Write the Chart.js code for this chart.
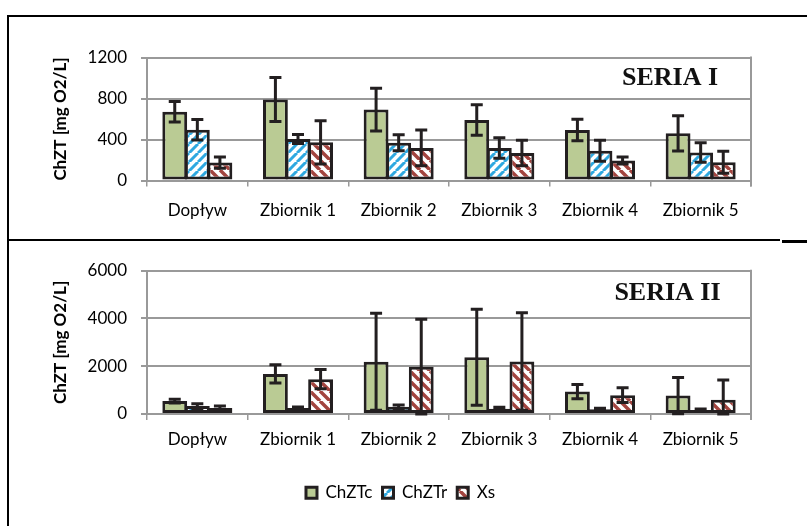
<!DOCTYPE html>
<html>
<head>
<meta charset="utf-8">
<script src="https://cdn.jsdelivr.net/npm/chart.js@4.4.1/dist/chart.umd.min.js"></script>
<style>
  html, body { margin: 0; padding: 0; background: #fff; }
  #wrap { position: relative; width: 807px; height: 526px; overflow: hidden; }
  canvas { position: absolute; left: 0; }
  #c1 { top: 0; }
  #c2 { top: 241px; }
  .ln { position: absolute; background: #000; }
</style>
</head>
<body>
<div id="wrap">
  <canvas id="c1" width="807" height="240"></canvas>
  <canvas id="c2" width="807" height="285"></canvas>
  <div class="ln" style="left:7px;top:15px;width:800px;height:2px"></div>
  <div class="ln" style="left:7px;top:15px;width:2px;height:511px"></div>
  <div class="ln" style="left:7px;top:239px;width:773px;height:2px"></div>
  <div class="ln" style="left:782px;top:240px;width:25px;height:3px"></div>
</div>
<script>
// Sampling points and series
const categories = ['Dopływ', 'Zbiornik 1', 'Zbiornik 2', 'Zbiornik 3', 'Zbiornik 4', 'Zbiornik 5'];
const seriesNames = ['ChZTc', 'ChZTr', 'Xs'];

// SERIA I  (mg O2/L, mean and standard deviation)
const chztcI     = [670, 790, 692, 590, 492, 460];
const chztcErrI  = [100, 215, 208, 148, 105, 172];
const chztrI     = [495, 405, 368, 318, 290, 273];
const chztrErrI  = [100, 45, 78, 100, 103, 95];
const xsI        = [175, 372, 318, 268, 195, 178];
const xsErrI     = [55, 210, 175, 124, 35, 108];
const ticksI     = [0, 400, 800, 1200];

// SERIA II
const chztcII    = [540, 1680, 2190, 2380, 940, 770];
const chztcErrII = [80, 380, 2030, 2010, 300, 760];
const chztrII    = [330, 250, 300, 220, 200, 170];
const chztrErrII = [100, 40, 80, 60, 40, 40];
const xsII       = [250, 1460, 1980, 2200, 790, 600];
const xsErrII    = [90, 400, 1990, 2040, 310, 820];
const ticksII    = [0, 2000, 4000, 6000];

const yTitle = 'ChZT [mg O2/L]';
const FONT = 'Lato';
const EDGE = '#231f20';
const GRID = '#999999';

Chart.defaults.font.family = FONT;
Chart.defaults.color = '#000';

// Diagonal hatch fill ('/' when dir > 0, '\' otherwise)
function hatch(ctx, color, dir, size, width) {
  const c = document.createElement('canvas');
  c.width = c.height = size;
  const g = c.getContext('2d');
  g.fillStyle = '#fff';
  g.fillRect(0, 0, size, size);
  g.strokeStyle = color;
  g.lineWidth = width;
  g.beginPath();
  for (let k = -1; k <= 1; k++) {
    if (dir > 0) { g.moveTo(k * size, size); g.lineTo(k * size + size, 0); }
    else { g.moveTo(k * size, 0); g.lineTo(k * size + size, size); }
  }
  g.stroke();
  return ctx.createPattern(c, 'repeat');
}

// Error whiskers with caps, drawn from each dataset's `errors` list
const errorBars = {
  id: 'errorBars',
  afterDatasetsDraw(chart) {
    const { ctx } = chart;
    const y = chart.scales.y;
    ctx.save();
    ctx.strokeStyle = EDGE;
    ctx.lineWidth = 3;
    ctx.lineCap = 'butt';
    chart.data.datasets.forEach((ds, i) => {
      const meta = chart.getDatasetMeta(i);
      meta.data.forEach((bar, j) => {
        const v = ds.data[j], e = ds.errors[j];
        const yt = y.getPixelForValue(v + e);
        const yb = y.getPixelForValue(Math.max(0, v - e));
        const x = bar.x, hw = 6;
        ctx.beginPath();
        ctx.moveTo(x, yt); ctx.lineTo(x, yb);
        ctx.moveTo(x - hw, yt); ctx.lineTo(x + hw, yt);
        ctx.moveTo(x - hw, yb); ctx.lineTo(x + hw, yb);
        ctx.stroke();
      });
    });
    ctx.restore();
  }
};

// Right edge of the plot frame
const plotFrame = {
  id: 'plotFrame',
  beforeDatasetsDraw(chart) {
    const { ctx, chartArea: a } = chart;
    ctx.save();
    ctx.strokeStyle = GRID;
    ctx.lineWidth = 2;
    ctx.beginPath();
    ctx.moveTo(a.right, a.top - 1);
    ctx.lineTo(a.right, a.bottom + 6);
    ctx.stroke();
    ctx.restore();
  }
};

// Series caption inside the plot
const seriesTag = {
  id: 'seriesTag',
  afterDraw(chart, args, o) {
    if (!o || !o.text) return;
    const { ctx, chartArea: a } = chart;
    ctx.save();
    ctx.font = 'bold 26px "Liberation Serif", "Times New Roman", serif';
    ctx.fillStyle = '#111';
    ctx.textAlign = 'center';
    ctx.textBaseline = 'middle';
    ctx.fillText(o.text, a.right + o.dx, a.top + o.dy);
    ctx.restore();
  }
};

function build(canvasId, values, errors, ticks, tag, geom) {
  const ctx = document.getElementById(canvasId).getContext('2d');
  const fills = ['#bacb94', hatch(ctx, '#2ea8e0', 1, 9, 3), hatch(ctx, '#a3443f', -1, 10, 3.5)];
  const datasets = seriesNames.map((name, i) => ({
    label: name,
    data: values[i],
    errors: errors[i],
    backgroundColor: fills[i],
    borderColor: EDGE,
    borderWidth: 3,
    borderSkipped: false,
    barPercentage: 1.1,
    categoryPercentage: 0.673
  }));
  return new Chart(ctx, {
    type: 'bar',
    data: { labels: categories, datasets },
    plugins: [plotFrame, errorBars, seriesTag],
    options: {
      responsive: false,
      animation: false,
      events: [],
      layout: { padding: { left: 50, right: 56, top: geom.top, bottom: geom.bottom } },
      plugins: {
        tooltip: { enabled: false },
        seriesTag: { text: tag, dx: geom.tagDx, dy: geom.tagDy },
        legend: {
          display: geom.legend,
          position: 'bottom',
          labels: { font: { family: FONT, size: 17 }, color: '#000', boxWidth: 11, boxHeight: 11, padding: 10 }
        }
      },
      scales: {
        x: {
          grid: { display: true, drawOnChartArea: false, drawTicks: true, tickLength: 6, color: GRID, lineWidth: 1.5 },
          border: { display: true, color: GRID, width: 2 },
          ticks: { font: { family: FONT, size: 17 }, color: '#000', padding: geom.xPad, maxRotation: 0, autoSkip: false },
          afterFit(s) { s.height = geom.xHeight; }
        },
        y: {
          min: ticks[0],
          max: ticks[ticks.length - 1],
          ticks: {
            stepSize: ticks[1] - ticks[0],
            font: { family: FONT, size: 17 },
            color: '#000',
            padding: 14,
            callback: (v) => String(v)
          },
          grid: { color: GRID, lineWidth: 2, tickLength: 6 },
          border: { display: true, color: GRID, width: 2 },
          title: { display: true, text: yTitle, font: { family: FONT, size: 17, weight: 'bold' }, color: '#000', padding: { top: 0, bottom: 0 } },
          afterFit(s) { s.width = 97; }
        }
      }
    }
  });
}

build('c1', [chztcI, chztrI, xsI], [chztcErrI, chztrErrI, xsErrI], ticksI, 'SERIA I',
  { top: 57.5, bottom: 0, xHeight: 59.5, xPad: 14, legend: false, tagDx: -81, tagDy: 20.5 });
build('c2', [chztcII, chztrII, xsII], [chztcErrII, chztrErrII, xsErrII], ticksII, 'SERIA II',
  { top: 29.7, bottom: 14.8, xHeight: 60.2, xPad: 9, legend: true, tagDx: -83.5, tagDy: 22.6 });
</script>
</body>
</html>
